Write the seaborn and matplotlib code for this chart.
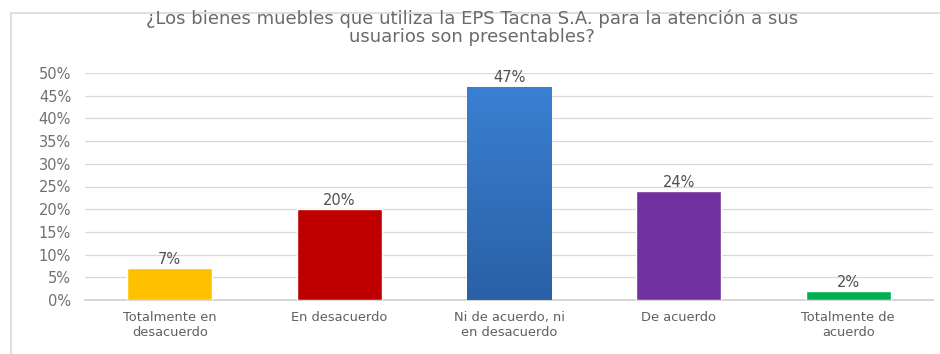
import matplotlib
matplotlib.use("Agg")
import matplotlib.pyplot as plt
import numpy as np
import pandas as pd
import seaborn as sns
from matplotlib.patches import Rectangle

# Survey answers and share of respondents
categories = [
    "Totalmente en\ndesacuerdo",
    "En desacuerdo",
    "Ni de acuerdo, ni\nen desacuerdo",
    "De acuerdo",
    "Totalmente de\nacuerdo",
]
shares = [0.07, 0.20, 0.47, 0.24, 0.02]
bar_colors = ["#FFC000", "#C00000", "#3375C4", "#7030A0", "#00B050"]
y_ticks = [0.00, 0.05, 0.10, 0.15, 0.20, 0.25, 0.30, 0.35, 0.40, 0.45, 0.50]
title = "¿Los bienes muebles que utiliza la EPS Tacna S.A. para la atención a sus\nusuarios son presentables?"

df = pd.DataFrame({"categoria": categories, "porcentaje": shares})

sns.set_theme(style="white")
plt.rcParams["font.family"] = ["DejaVu Sans"]

fig = plt.figure(figsize=(9.4, 3.54), dpi=100)
W, H = 940, 354
ax = fig.add_axes([85 / W, (H - 300) / H, (933 - 85) / W, (300 - 73) / H])

# Light chart frame
fig.patches.append(Rectangle((11 / W, -0.1), 1.2, (H - 13) / H + 0.1,
                             transform=fig.transFigure, fill=False,
                             edgecolor="#D9D9D9", linewidth=1.2, zorder=0))

sns.barplot(data=df, x="categoria", y="porcentaje", hue="categoria",
            palette=bar_colors, width=0.5, saturation=1, legend=False,
            ax=ax, zorder=3)

# Vertical gradient on the middle bar
mid = ax.patches[2]
x0, y0 = mid.get_x(), mid.get_y()
w, h = mid.get_width(), mid.get_height()
grad = np.linspace(0, 1, 256).reshape(-1, 1)
cmap = matplotlib.colors.LinearSegmentedColormap.from_list("blu", ["#2A60A6", "#3A80D2"])
im = ax.imshow(grad, cmap=cmap, origin="lower", aspect="auto",
               extent=(x0, x0 + w, y0, y0 + h), zorder=4)
im.set_clip_path(mid)
ax.set_xlim(-0.5, 4.5)

ax.set_ylim(0, 0.5)
ax.set_yticks(y_ticks)
ax.set_yticklabels([f"{int(round(t * 100))}%" for t in y_ticks])
ax.yaxis.grid(True, color="#D9D9D9", linewidth=0.9)
ax.set_axisbelow(True)
for s in ["top", "right", "left"]:
    ax.spines[s].set_visible(False)
ax.spines["bottom"].set_color("#D0D0D0")
ax.tick_params(axis="y", length=0, pad=10, labelsize=10.5, labelcolor="#707070")
ax.tick_params(axis="x", length=0, pad=8, labelsize=9.4, labelcolor="#606060")
ax.set_xlabel("")
ax.set_ylabel("")

for i, v in enumerate(shares):
    ax.text(i, v + 0.003, f"{int(round(v * 100))}%", ha="center", va="bottom",
            fontsize=10.5, color="#505050", zorder=5)

fig.text(472 / W, (H - 9) / H, title, ha="center", va="top",
         fontsize=13, color="#6A6A6A", linespacing=1.0)

fig.savefig("out.png", dpi=100)
